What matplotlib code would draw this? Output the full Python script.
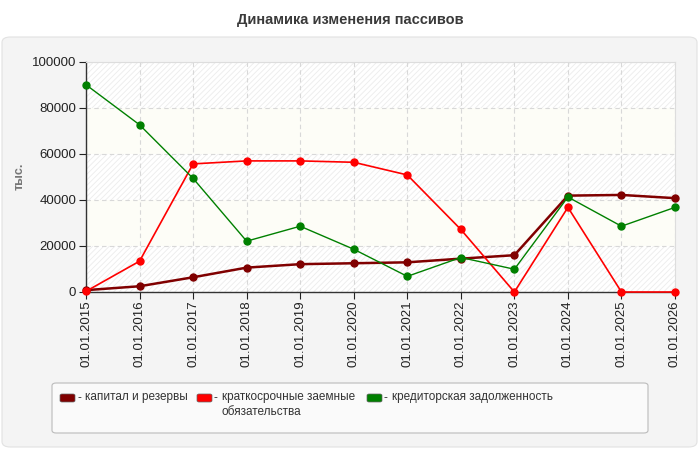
import matplotlib
matplotlib.use("Agg")
import matplotlib.pyplot as plt
from matplotlib.patches import FancyBboxPatch

plt.rcParams['font.family'] = ['Liberation Sans', 'DejaVu Sans']
plt.rcParams['hatch.linewidth'] = 0.6

dates = ['01.01.2015', '01.01.2016', '01.01.2017', '01.01.2018', '01.01.2019', '01.01.2020',
         '01.01.2021', '01.01.2022', '01.01.2023', '01.01.2024', '01.01.2025', '01.01.2026']
capital = [800, 2500, 6400, 10600, 12100, 12500, 12900, 14500, 16000, 41900, 42200, 40800]
short_loans = [300, 13400, 55700, 57000, 57000, 56400, 50900, 27200, 0, 36800, 0, 0]
payables = [90100, 72700, 49400, 22100, 28600, 18600, 6800, 15000, 9900, 41300, 28600, 36800]
names = ['капитал и резервы', 'краткосрочные заемные\nобязательства', 'кредиторская задолженность']
colors = ['#800000', '#ff0000', '#008000']
yticks = [0, 20000, 40000, 60000, 80000, 100000]

W, H = 700, 450
fig = plt.figure(figsize=(7, 4.5), dpi=100)
fig.patch.set_facecolor('white')

def fx(px):
    return px / W

def fy(py):
    return 1 - py / H

# panel
panel = FancyBboxPatch((fx(2), fy(447)), fx(695), (447 - 37) / H,
                       boxstyle="round,pad=0,rounding_size=0.012",
                       transform=fig.transFigure, facecolor='#f4f4f4',
                       edgecolor='#e2e2e2', linewidth=0.8, zorder=-5)
fig.patches.append(panel)

fig.text(0.5, fy(20), 'Динамика изменения пассивов', ha='center', va='center',
         fontsize=10.5, fontweight='bold', color='#3a3a3a')

ax = fig.add_axes([fx(86), fy(292), fx(675 - 86), (292 - 62) / H])
ax.set_zorder(2)
ax.set_facecolor('white')
x = list(range(len(dates)))

# alternating bands
for i in range(len(yticks) - 1):
    lo, hi = yticks[i], yticks[i + 1]
    if i % 2 == 0:
        ax.axhspan(lo, hi, facecolor='white', edgecolor='#ececec', hatch='//////',
                   linewidth=0, zorder=0)
    else:
        ax.axhspan(lo, hi, facecolor='#fdfdf7', edgecolor='none', linewidth=0, zorder=0)

ax.grid(True, color='#d8d8d8', linestyle=(0, (4, 3)), linewidth=0.8, zorder=1)
ax.set_axisbelow(True)

lws = [1.8, 1.2, 1.0]
for vals, c, lw in zip([capital, short_loans, payables], colors, lws):
    ax.plot(x, vals, color=c, linewidth=lw, marker='o', markersize=5, zorder=3,
            clip_on=False)

ax.set_xlim(0, len(dates) - 1)
ax.set_ylim(0, 100000)
ax.set_yticks(yticks)
ax.set_yticklabels([str(v) for v in yticks])
ax.set_xticks(x)
ax.set_xticklabels(dates, rotation=90, ha='center', va='top')
ax.tick_params(axis='both', labelsize=9.5, colors='#222222', length=5, width=0.8,
               direction='out')
ax.tick_params(axis='x', pad=1)
ax.tick_params(axis='y', pad=2)
for s in ['left', 'bottom']:
    ax.spines[s].set_color('#333333')
    ax.spines[s].set_linewidth(1)
for s in ['top', 'right']:
    ax.spines[s].set_color('#dddddd')
    ax.spines[s].set_linewidth(0.8)

fig.text(fx(20), fy(176), 'тыс.', rotation=90, ha='center', va='center',
         fontsize=9, fontweight='bold', color='#777777')

# legend box
leg = FancyBboxPatch((fx(52), fy(433)), fx(596), 50 / H,
                     boxstyle="round,pad=0,rounding_size=0.006",
                     transform=fig.transFigure, facecolor='#fafafa',
                     edgecolor='#bbbbbb', linewidth=0.8, zorder=-1)
fig.patches.append(leg)

sw_x = [60, 197, 367]
for sx, c, n in zip(sw_x, colors, names):
    sw = FancyBboxPatch((fx(sx), fy(402)), fx(15), 8 / H,
                        boxstyle="round,pad=0,rounding_size=0.003",
                        transform=fig.transFigure, facecolor=c,
                        edgecolor='#666666', linewidth=0.5, zorder=0)
    fig.patches.append(sw)
    fig.text(fx(sx + 17), fy(398), '-', ha='left', va='center', fontsize=8.5,
             color='#333333')
    fig.text(fx(sx + 25), fy(391), n, ha='left', va='top', fontsize=8.5,
             color='#333333', linespacing=1.3)

fig.savefig('out.png', dpi=100, facecolor='white')
